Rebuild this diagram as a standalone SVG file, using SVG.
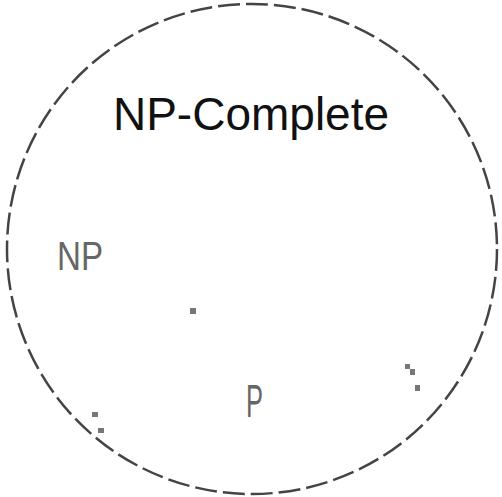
<svg xmlns="http://www.w3.org/2000/svg" width="502" height="497" viewBox="0 0 502 497">
<style>
.ring{fill:none;stroke:#444;stroke-width:2.5;stroke-dasharray:22 6}
.title{font-family:"Liberation Sans",Arial,sans-serif;font-size:46px;fill:#111}
.lbl{font-family:"Liberation Sans",Arial,sans-serif;fill:#666}
.dot{fill:#777}
</style>
<rect width="502" height="497" fill="#fff"/>
<g id="np-complete-region">
<circle class="ring" cx="252" cy="249" r="245"/>
<text class="title" x="251" y="130" text-anchor="middle">NP-Complete</text>
</g>
<g id="np-node">
<text class="lbl" x="57" y="270" font-size="40" textLength="46" lengthAdjust="spacingAndGlyphs">NP</text>
</g>
<g id="p-node">
<text class="lbl" x="246" y="417" font-size="46" textLength="17" lengthAdjust="spacingAndGlyphs">P</text>
</g>
<g id="connectors">
<rect class="dot" x="190" y="308" width="6" height="6"/>
<rect class="dot" x="405" y="364" width="5" height="5"/>
<rect class="dot" x="410" y="369" width="5" height="6"/>
<rect class="dot" x="415" y="385" width="5" height="6"/>
<rect class="dot" x="92" y="412" width="6" height="5"/>
<rect class="dot" x="98" y="428" width="6" height="5"/>
</g>
</svg>
